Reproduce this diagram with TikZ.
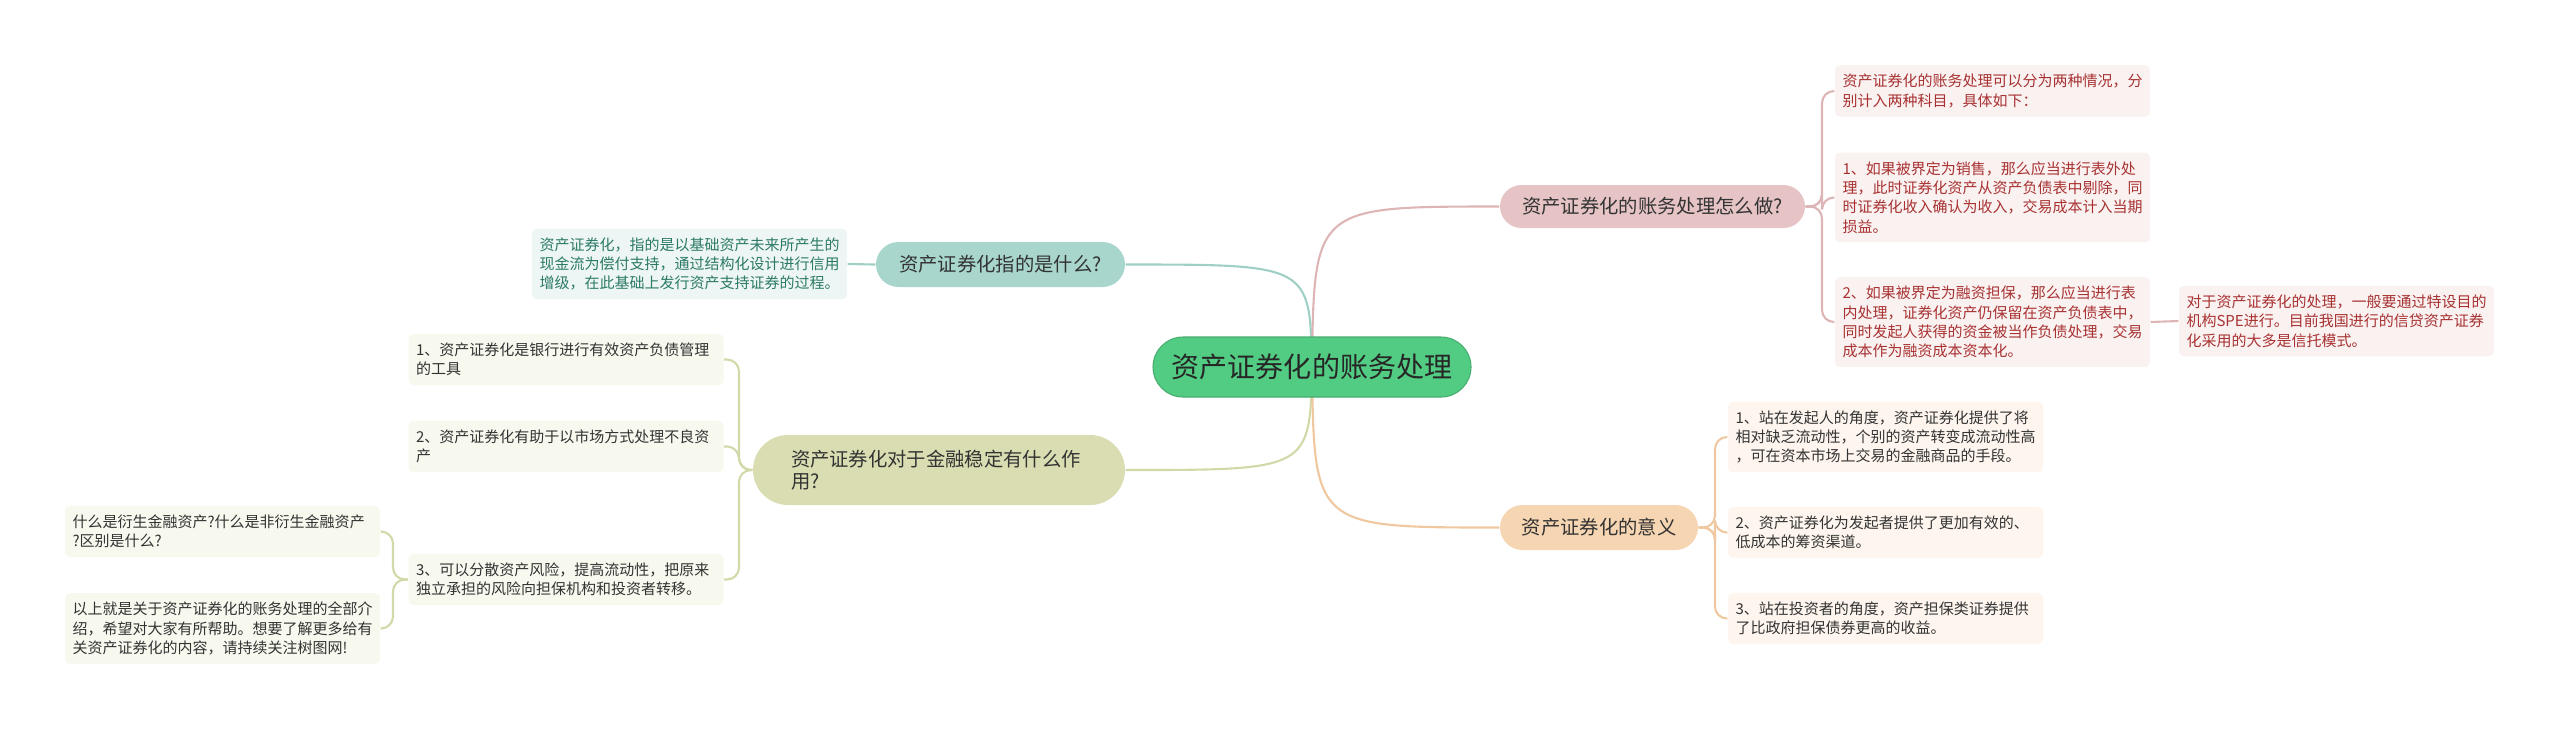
\documentclass[tikz,border=0pt]{standalone}
\usepackage{fontspec}
\setmainfont{Noto Sans CJK SC}
\usetikzlibrary{backgrounds}
\definecolor{cRoot}{HTML}{52CC82}
\definecolor{cPink}{HTML}{E6C4C5}
\definecolor{cPeach}{HTML}{F5D5B2}
\definecolor{cTeal}{HTML}{A8D6CC}
\definecolor{cOlive}{HTML}{D9DDB1}
\definecolor{cPinkLeaf}{HTML}{FAF1F1}
\definecolor{cPeachLeaf}{HTML}{FEF6EE}
\definecolor{cTealLeaf}{HTML}{EDF6F4}
\definecolor{cOliveLeaf}{HTML}{F7F8EE}
\definecolor{cPinkText}{HTML}{A83232}
\definecolor{cTealText}{HTML}{2C7A66}
\definecolor{cPinkLine}{HTML}{DDB5B6}
\definecolor{cPeachLine}{HTML}{F0C8A0}
\definecolor{cTealLine}{HTML}{9FCFC5}
\definecolor{cOliveLine}{HTML}{D3D8A9}
\begin{document}
\begin{tikzpicture}[
		mainbox/.style={rounded corners=#1, inner sep=0pt, text=black!80,
			font=\fontsize{5.5pt}{6.2pt}\selectfont},
		leaf/.style={rounded corners=0.05cm, text width=3.0cm, align=left,
			inner xsep=0.075cm, inner ysep=0.09cm, text=black!80,
			font=\fontsize{4.27pt}{5.49pt}\selectfont},
		link/.style={line width=0.6pt, rounded corners=0.12cm}
	]
	\useasboundingbox (0,0) rectangle (25.6,-7.29);

	\node [fill=cRoot, draw=cRoot!85!black, line width=0.3pt, rounded corners=0.3cm,
		minimum width=3.18cm, minimum height=0.6cm, inner sep=0pt, text=black!85,
		font=\fontsize{7.97pt}{9pt}\selectfont] (root) at (13.12,-3.67) {资产证券化的账务处理};

	\node [mainbox=0.215cm, fill=cPink, minimum width=3.05cm, minimum height=0.43cm] (how) at (16.525,-2.065) {资产证券化的账务处理怎么做?};
	\node [mainbox=0.225cm, fill=cPeach, minimum width=1.98cm, minimum height=0.45cm] (meaning) at (15.99,-5.275) {资产证券化的意义};
	\node [mainbox=0.225cm, fill=cTeal, minimum width=2.49cm, minimum height=0.45cm] (what) at (10.005,-2.645) {资产证券化指的是什么?};
	\node [mainbox=0.35cm, fill=cOlive, minimum width=3.72cm, minimum height=0.7cm,
		text width=2.96cm, align=left] (role) at (9.39,-4.70) {资产证券化对于金融稳定有什么作\\用?};

	\begin{scope}[every node/.style={leaf, fill=cPinkLeaf, text=cPinkText}]
	\node (sortA) at (19.925,-0.91) {资产证券化的账务处理可以分为两种情况，分\\别计入两种科目，具体如下：};
	\node (sortB) at (19.925,-1.975) {1、如果被界定为销售，那么应当进行表外处\\理，此时证券化资产从资产负债表中剔除，同\\时证券化收入确认为收入，交易成本计入当期\\损益。};
	\node (sortC) at (19.925,-3.22) {2、如果被界定为融资担保，那么应当进行表\\内处理，证券化资产仍保留在资产负债表中，\\同时发起人获得的资金被当作负债处理，交易\\成本作为融资成本资本化。};
	\node (spe) at (23.365,-3.21) {对于资产证券化的处理，一般要通过特设目的\\机构SPE进行。目前我国进行的信贷资产证券\\化采用的大多是信托模式。};
	\end{scope}

	\begin{scope}[every node/.style={leaf, fill=cPeachLeaf}]
	\node (meanA) at (18.855,-4.37) {1、站在发起人的角度，资产证券化提供了将\\相对缺乏流动性，个别的资产转变成流动性高\\，可在资本市场上交易的金融商品的手段。};
	\node (meanB) at (18.855,-5.325) {2、资产证券化为发起者提供了更加有效的、\\低成本的筹资渠道。};
	\node (meanC) at (18.855,-6.185) {3、站在投资者的角度，资产担保类证券提供\\了比政府担保债券更高的收益。};
	\end{scope}

	\node [leaf, fill=cTealLeaf, text=cTealText] (define) at (6.895,-2.64) {资产证券化，指的是以基础资产未来所产生的\\现金流为偿付支持，通过结构化设计进行信用\\增级，在此基础上发行资产支持证券的过程。};

	\begin{scope}[every node/.style={leaf, fill=cOliveLeaf}]
	\node (roleA) at (5.66,-3.595) {1、资产证券化是银行进行有效资产负债管理\\的工具};
	\node (roleB) at (5.66,-4.465) {2、资产证券化有助于以市场方式处理不良资\\产};
	\node (roleC) at (5.66,-5.795) {3、可以分散资产风险，提高流动性，把原来\\独立承担的风险向担保机构和投资者转移。};
	\node (askA) at (2.225,-5.315) {什么是衍生金融资产?什么是非衍生金融资产\\?区别是什么?};
	\node (askB) at (2.225,-6.285) {以上就是关于资产证券化的账务处理的全部介\\绍，希望对大家有所帮助。想要了解更多给有\\关资产证券化的内容，请持续关注树图网!};
	\end{scope}

	\begin{scope}[on background layer]
	\draw [link, draw=cTealLine] (root.center) .. controls (13.10,-2.645) .. (what.east);
	\draw [link, draw=cPinkLine] (root.center) .. controls (13.14,-2.065) .. (how.west);
	\draw [link, draw=cOliveLine] (root.center) .. controls (13.10,-4.70) .. (role.east);
	\draw [link, draw=cPeachLine] (root.center) .. controls (13.14,-5.275) .. (meaning.west);

	\draw [link, draw=cPinkLine] (how.east) -- (18.22,-2.065) |- (sortA.west);
	\draw [link, draw=cPinkLine] (how.east) -- (18.22,-2.065) |- (sortB.west);
	\draw [link, draw=cPinkLine] (how.east) -- (18.22,-2.065) |- (sortC.west);
	\draw [link, draw=cPinkLine] (sortC.east) -- (spe.west);

	\draw [link, draw=cPeachLine] (meaning.east) -- (17.15,-5.275) |- (meanA.west);
	\draw [link, draw=cPeachLine] (meaning.east) -- (17.15,-5.275) |- (meanB.west);
	\draw [link, draw=cPeachLine] (meaning.east) -- (17.15,-5.275) |- (meanC.west);

	\draw [link, draw=cTealLine] (what.west) -- (define.east);

	\draw [link, draw=cOliveLine] (role.west) -- (7.39,-4.70) |- (roleA.east);
	\draw [link, draw=cOliveLine] (role.west) -- (7.39,-4.70) |- (roleB.east);
	\draw [link, draw=cOliveLine] (role.west) -- (7.39,-4.70) |- (roleC.east);
	\draw [link, draw=cOliveLine] (roleC.west) -- (3.93,-5.795) |- (askA.east);
	\draw [link, draw=cOliveLine] (roleC.west) -- (3.93,-5.795) |- (askB.east);
	\end{scope}
\end{tikzpicture}
\end{document}
